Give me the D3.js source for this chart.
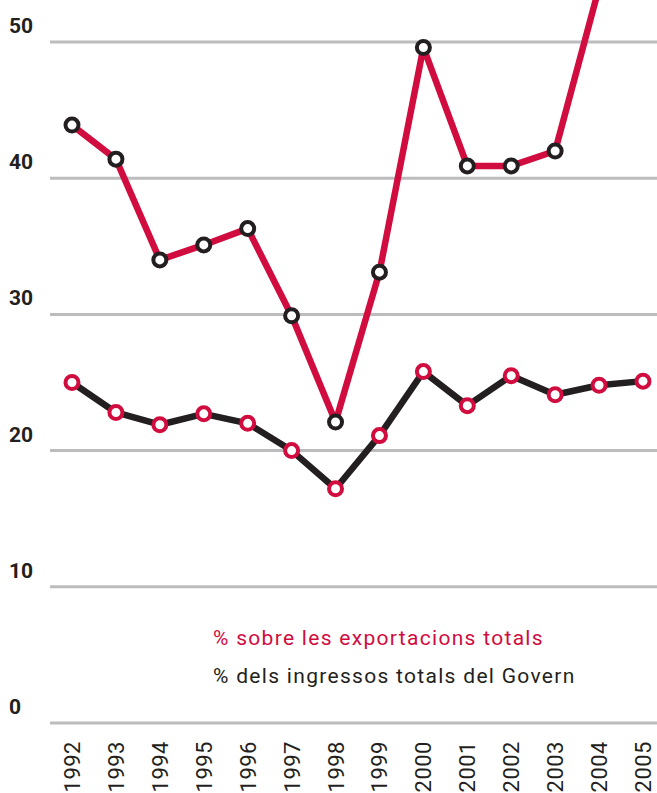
<!DOCTYPE html>
<html>
<head>
<meta charset="utf-8">
<script src="https://cdn.jsdelivr.net/npm/d3@7"></script>
<style>
  body { margin: 0; background: #fff; }
  svg { display: block; }
</style>
</head>
<body>
<div id="chart"></div>
<script>
var years = [1992, 1993, 1994, 1995, 1996, 1997, 1998, 1999, 2000, 2001, 2002, 2003, 2004, 2005];
// % sobre les exportacions totals
var exportsPct = [43.9, 41.4, 34.0, 35.1, 36.3, 29.9, 22.1, 33.1, 49.6, 40.9, 40.9, 42.0, 54.0, 58.0];
// % dels ingressos totals del Govern
var govPct = [25.0, 22.8, 21.9, 22.7, 22.0, 20.0, 17.2, 21.1, 25.8, 23.3, 25.5, 24.1, 24.8, 25.1];
var yTicks = [0, 10, 20, 30, 40, 50];
var legendLabels = ["% sobre les exportacions totals", "% dels ingressos totals del Govern"];

var width = 657, height = 793;
var red = "#d10c3f", dark = "#231f20", grid = "#bcbcbe";

var svg = d3.select("#chart").append("svg")
    .attr("width", width)
    .attr("height", height);

var x = d3.scalePoint()
    .domain(years)
    .range([72, 643]);

var y = d3.scaleLinear()
    .domain([0, 50])
    .range([723, 42]);

// grid lines + labels
svg.selectAll("line.grid")
  .data(yTicks)
  .enter().append("line")
    .attr("class", "grid")
    .attr("x1", 50)
    .attr("x2", width)
    .attr("y1", function(d) { return y(d); })
    .attr("y2", function(d) { return y(d); })
    .attr("stroke", grid)
    .attr("stroke-width", 3);

svg.selectAll("text.ylab")
  .data(yTicks)
  .enter().append("text")
    .attr("class", "ylab")
    .attr("x", 9)
    .attr("y", function(d) { return y(d) - 9; })
    .attr("font-family", "Roboto, 'DejaVu Sans', sans-serif")
    .attr("font-weight", "bold")
    .attr("font-size", 21)
    .attr("fill", dark)
    .text(function(d) { return d; });

// x labels, rotated
svg.selectAll("text.xlab")
  .data(years)
  .enter().append("text")
    .attr("class", "xlab")
    .attr("transform", function(d) { return "translate(" + (x(d) + 8) + ",741) rotate(-90)"; })
    .attr("text-anchor", "end")
    .attr("font-family", "Roboto, 'DejaVu Sans', sans-serif")
    .attr("font-size", 22)
    .attr("letter-spacing", 0.5)
    .attr("fill", dark)
    .text(function(d) { return d; });

var line = d3.line()
    .x(function(d, i) { return x(years[i]); })
    .y(function(d) { return y(d); });

// government line (dark, red markers)
svg.append("path")
    .datum(govPct)
    .attr("d", line)
    .attr("fill", "none")
    .attr("stroke", dark)
    .attr("stroke-width", 6.5)
    .attr("stroke-linejoin", "round");

// exports line (red, dark markers)
svg.append("path")
    .datum(exportsPct)
    .attr("d", line)
    .attr("fill", "none")
    .attr("stroke", red)
    .attr("stroke-width", 6.5)
    .attr("stroke-linejoin", "round");

svg.selectAll("circle.gov")
  .data(govPct)
  .enter().append("circle")
    .attr("class", "gov")
    .attr("cx", function(d, i) { return x(years[i]); })
    .attr("cy", function(d) { return y(d); })
    .attr("r", 6.5)
    .attr("fill", "#fff")
    .attr("stroke", red)
    .attr("stroke-width", 4);

svg.selectAll("circle.exp")
  .data(exportsPct)
  .enter().append("circle")
    .attr("class", "exp")
    .attr("cx", function(d, i) { return x(years[i]); })
    .attr("cy", function(d) { return y(d); })
    .attr("r", 6.5)
    .attr("fill", "#fff")
    .attr("stroke", dark)
    .attr("stroke-width", 4);

// legend
svg.selectAll("text.legend")
  .data(legendLabels)
  .enter().append("text")
    .attr("class", "legend")
    .attr("x", 213)
    .attr("y", function(d, i) { return 645 + i * 38; })
    .attr("font-family", "Roboto, 'DejaVu Sans', sans-serif")
    .attr("font-size", 21)
    .attr("letter-spacing", 1.3)
    .attr("fill", function(d, i) { return i == 0 ? red : dark; })
    .text(function(d) { return d; });
</script>
</body>
</html>
